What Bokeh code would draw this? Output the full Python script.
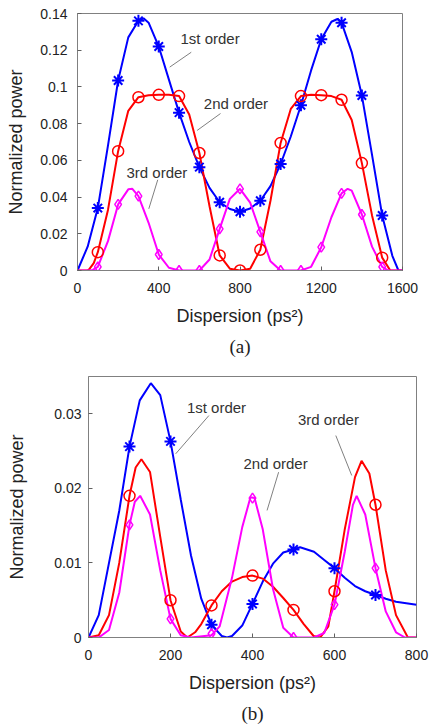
from bokeh.plotting import figure
from bokeh.models import Range1d, FixedTicker, Title
from bokeh.core.properties import value
from bokeh.embed import file_html
from bokeh.resources import INLINE

# ---------------- (a) data ----------------
a_blue_x = [0, 50, 100, 150, 200, 250, 300, 325, 350, 400, 450, 500, 550, 600, 650, 700, 750, 800,
            850, 900, 950, 1000, 1050, 1100, 1150, 1200, 1250, 1280, 1300, 1350, 1400, 1450, 1500,
            1550, 1580, 1600]
a_blue_y = [0, 0.013, 0.034, 0.068, 0.1035, 0.127, 0.136, 0.1374, 0.135, 0.122, 0.104, 0.086, 0.070,
            0.0563, 0.045, 0.0372, 0.0335, 0.032, 0.0338, 0.038, 0.046, 0.058, 0.073, 0.090, 0.109,
            0.126, 0.1355, 0.137, 0.135, 0.119, 0.0953, 0.063, 0.030, 0.008, 0, 0]

a_red_x = [0, 50, 60, 80, 100, 150, 200, 250, 300, 350, 400, 450, 500, 550, 600, 650, 700, 750, 800,
           850, 900, 950, 1000, 1050, 1100, 1150, 1200, 1250, 1300, 1350, 1400, 1450, 1500, 1540, 1600]
a_red_y = [0, 0, 0.001, 0.004, 0.010, 0.033, 0.065, 0.087, 0.0944, 0.0955, 0.0957, 0.0957, 0.095,
           0.085, 0.064, 0.035, 0.0082, 0.001, 0, 0.001, 0.0113, 0.038, 0.0695, 0.088, 0.095, 0.0957,
           0.0955, 0.095, 0.093, 0.082, 0.0585, 0.030, 0.007, 0, 0]

a_mag_x = [0, 50, 75, 100, 150, 200, 250, 270, 300, 350, 400, 450, 500, 600, 650, 700, 750, 800, 850,
           900, 950, 1000, 1100, 1150, 1200, 1250, 1300, 1330, 1350, 1400, 1450, 1500, 1530, 1600]
a_mag_y = [0, 0, 0.0003, 0.002, 0.016, 0.036, 0.0442, 0.0445, 0.0405, 0.026, 0.0087, 0.0015, 0, 0,
           0.006, 0.0227, 0.039, 0.0445, 0.037, 0.021, 0.005, 0, 0, 0.002, 0.0127, 0.029, 0.042,
           0.0445, 0.0435, 0.0305, 0.013, 0.002, 0, 0]

a_mark_x = [100, 200, 300, 400, 500, 600, 700, 800, 900, 1000, 1100, 1200, 1300, 1400, 1500]
a_mark_blue = [0.034, 0.1035, 0.136, 0.122, 0.086, 0.0563, 0.0372, 0.032, 0.038, 0.058, 0.090, 0.126,
               0.135, 0.0953, 0.030]
a_mark_red = [0.010, 0.065, 0.0944, 0.0957, 0.095, 0.064, 0.0082, 0.0, 0.0113, 0.0695, 0.095, 0.0955,
              0.093, 0.0585, 0.007]
a_mark_mag = [0.002, 0.036, 0.0405, 0.0087, 0.0, 0.0, 0.0227, 0.0445, 0.021, 0.0, 0.0, 0.0127, 0.042,
              0.0305, 0.002]

a_xticks = [0, 400, 800, 1200, 1600]
a_yticks = [0, 0.02, 0.04, 0.06, 0.08, 0.1, 0.12, 0.14]
a_ylabels = ["0", "0.02", "0.04", "0.06", "0.08", "0.1", "0.12", "0.14"]

a_notes = ["1st order", "2nd order", "3rd order"]
a_note_x = [507, 622, 241]
a_note_y = [0.1262, 0.0908, 0.0536]
a_lead_x0 = [560, 704, 395]
a_lead_y0 = [0.1189, 0.0855, 0.0494]
a_lead_x1 = [454, 589, 351]
a_lead_y1 = [0.1108, 0.0763, 0.0336]

# ---------------- (b) data ----------------
b_blue_x = [0, 25, 50, 75, 100, 125, 152, 175, 200, 225, 250, 275, 300, 325, 338, 350, 375, 400, 425,
            450, 475, 500, 516, 550, 575, 600, 625, 650, 675, 700, 725, 750, 775, 800]
b_blue_y = [0, 0.003, 0.010, 0.017, 0.0256, 0.0318, 0.0341, 0.0325, 0.0263, 0.0185, 0.0110, 0.0052,
            0.0017, 0.0002, 0, 0.0002, 0.0016, 0.0045, 0.0075, 0.0099, 0.0114, 0.0118, 0.0121, 0.0115,
            0.0104, 0.0093, 0.0080, 0.0069, 0.0062, 0.0057, 0.0052, 0.0048, 0.0046, 0.0044]

b_red_x = [0, 25, 50, 75, 100, 115, 129, 150, 175, 200, 225, 241, 260, 275, 300, 325, 350, 375, 400,
           425, 450, 475, 500, 525, 549, 565, 585, 600, 625, 650, 666, 685, 700, 725, 750, 779, 800]
b_red_y = [0, 0.0003, 0.003, 0.010, 0.019, 0.0228, 0.0239, 0.0222, 0.0135, 0.005, 0.0008, 0, 0.0007,
           0.0018, 0.0043, 0.0062, 0.0075, 0.0081, 0.0083, 0.0079, 0.0068, 0.0053, 0.0037, 0.0018,
           0.0002, 0, 0.0015, 0.0062, 0.0145, 0.0215, 0.0237, 0.022, 0.0178, 0.009, 0.003, 0, 0]

b_mag_x = [0, 25, 50, 75, 100, 113, 126, 150, 175, 200, 225, 250, 300, 320, 350, 375, 395, 405, 425,
           450, 475, 500, 550, 575, 600, 625, 645, 654, 675, 700, 725, 750, 772, 800]
b_mag_y = [0, 0, 0.001, 0.006, 0.0151, 0.0182, 0.019, 0.0165, 0.009, 0.0025, 0.0003, 0, 0.0003,
           0.0015, 0.008, 0.0148, 0.0188, 0.0187, 0.0145, 0.0065, 0.0013, 0, 0, 0.0006, 0.0044,
           0.0115, 0.0178, 0.019, 0.0165, 0.0093, 0.0035, 0.0007, 0, 0]

b_mark_x = [100, 200, 300, 400, 500, 600, 700]
b_mark_blue = [0.0256, 0.0263, 0.0017, 0.0045, 0.0118, 0.0093, 0.0057]
b_mark_red = [0.019, 0.005, 0.0043, 0.0083, 0.0037, 0.0062, 0.0178]
b_mark_mag = [0.0151, 0.0025, 0.0005, 0.0187, 0.0, 0.0044, 0.0093]

b_xticks = [0, 200, 400, 600, 800]
b_yticks = [0, 0.01, 0.02, 0.03]
b_ylabels = ["0", "0.01", "0.02", "0.03"]

b_notes = ["1st order", "2nd order", "3rd order"]
b_note_x = [240, 378, 511]
b_note_y = [0.0309, 0.0233, 0.0292]
b_lead_x0 = [293.6, 463.7, 603.2]
b_lead_y0 = [0.02976, 0.02217, 0.02708]
b_lead_x1 = [212.6, 435.5, 642.0]
b_lead_y1 = [0.02463, 0.01704, 0.02173]

BLUE, RED, MAG = "#0000ff", "#ff0000", "#ff00ff"
FONT = "Liberation Sans"
TXT = "#222222"


def make(width, height, xr, yr, xticks, yticks, ylabels, borders, ystand, ylab_stand, tag):
    p = figure(width=width, height=height, x_range=Range1d(*xr), y_range=Range1d(*yr),
               output_backend="svg", toolbar_location=None, title=None,
               min_border_left=borders[0], min_border_right=borders[1],
               min_border_top=borders[2], min_border_bottom=borders[3])
    p.xaxis.ticker = FixedTicker(ticks=xticks)
    p.yaxis.ticker = FixedTicker(ticks=yticks)
    p.yaxis.major_label_overrides = {t: l for t, l in zip(yticks, ylabels)}
    p.xaxis.axis_label = "Dispersion (ps\u00b2)"
    p.yaxis.axis_label = "Normalized power"
    for ax in p.axis:
        ax.major_tick_in = 4
        ax.major_tick_out = 0
        ax.minor_tick_line_color = None
        ax.axis_line_color = "#808080"
        ax.major_tick_line_color = "#606060"
        ax.major_label_text_font = FONT
        ax.major_label_text_font_size = "14px"
        ax.major_label_text_color = TXT
        ax.axis_label_text_font = FONT
        ax.axis_label_text_font_size = "18px"
        ax.axis_label_text_font_style = "normal"
        ax.axis_label_text_color = TXT
    p.xaxis.major_label_standoff = 12
    p.xaxis.axis_label_standoff = 10
    p.yaxis.major_label_standoff = ystand
    p.yaxis.axis_label_standoff = ylab_stand
    p.grid.visible = False
    p.outline_line_color = "#808080"
    p.outline_line_width = 1
    p.background_fill_color = "white"
    p.border_fill_color = "white"
    t = Title(text=tag, align="center", text_font="Liberation Serif", text_font_size="19px",
              text_font_style="normal", text_color=TXT)
    p.add_layout(t, "below")
    return p


def draw(p, bx, by, rx, ry, mx, my, mkx, mkb, mkr, mkm, notes, nx, ny, lx0, ly0, lx1, ly1):
    p.line(bx, by, line_color=BLUE, line_width=2)
    p.line(rx, ry, line_color=RED, line_width=2)
    p.line(mx, my, line_color=MAG, line_width=2)
    p.scatter(mkx, mkb, marker="asterisk", size=12, line_color=BLUE, line_width=2)
    p.scatter(mkx, mkr, marker="circle", size=11, line_color=RED, fill_color=None, line_width=1.5)
    p.scatter(mkx, mkm, marker="diamond", size=10, line_color=MAG, fill_color=None, line_width=1.5)
    p.segment(lx0, ly0, lx1, ly1, line_color="#808080", line_width=1)
    p.text(nx, ny, text=notes, text_font=value(FONT), text_font_size="15px", text_color="#333333",
           text_align="left", text_baseline="middle")


pa = make(432, 365, (0, 1600), (0, 0.14), a_xticks, a_yticks, a_ylabels, (77, 30, 13, 95), 10, 11, "(a)")
draw(pa, a_blue_x, a_blue_y, a_red_x, a_red_y, a_mag_x, a_mag_y, a_mark_x, a_mark_blue, a_mark_red,
     a_mark_mag, a_notes, a_note_x, a_note_y, a_lead_x0, a_lead_y0, a_lead_x1, a_lead_y1)

pb = make(432, 363, (0, 800), (0, 0.035), b_xticks, b_yticks, b_ylabels, (88, 16, 11, 91), 7, 24, "(b)")
draw(pb, b_blue_x, b_blue_y, b_red_x, b_red_y, b_mag_x, b_mag_y, b_mark_x, b_mark_blue, b_mark_red,
     b_mark_mag, b_notes, b_note_x, b_note_y, b_lead_x0, b_lead_y0, b_lead_x1, b_lead_y1)

open("out.html", "w").write(file_html([pa, pb], INLINE))
